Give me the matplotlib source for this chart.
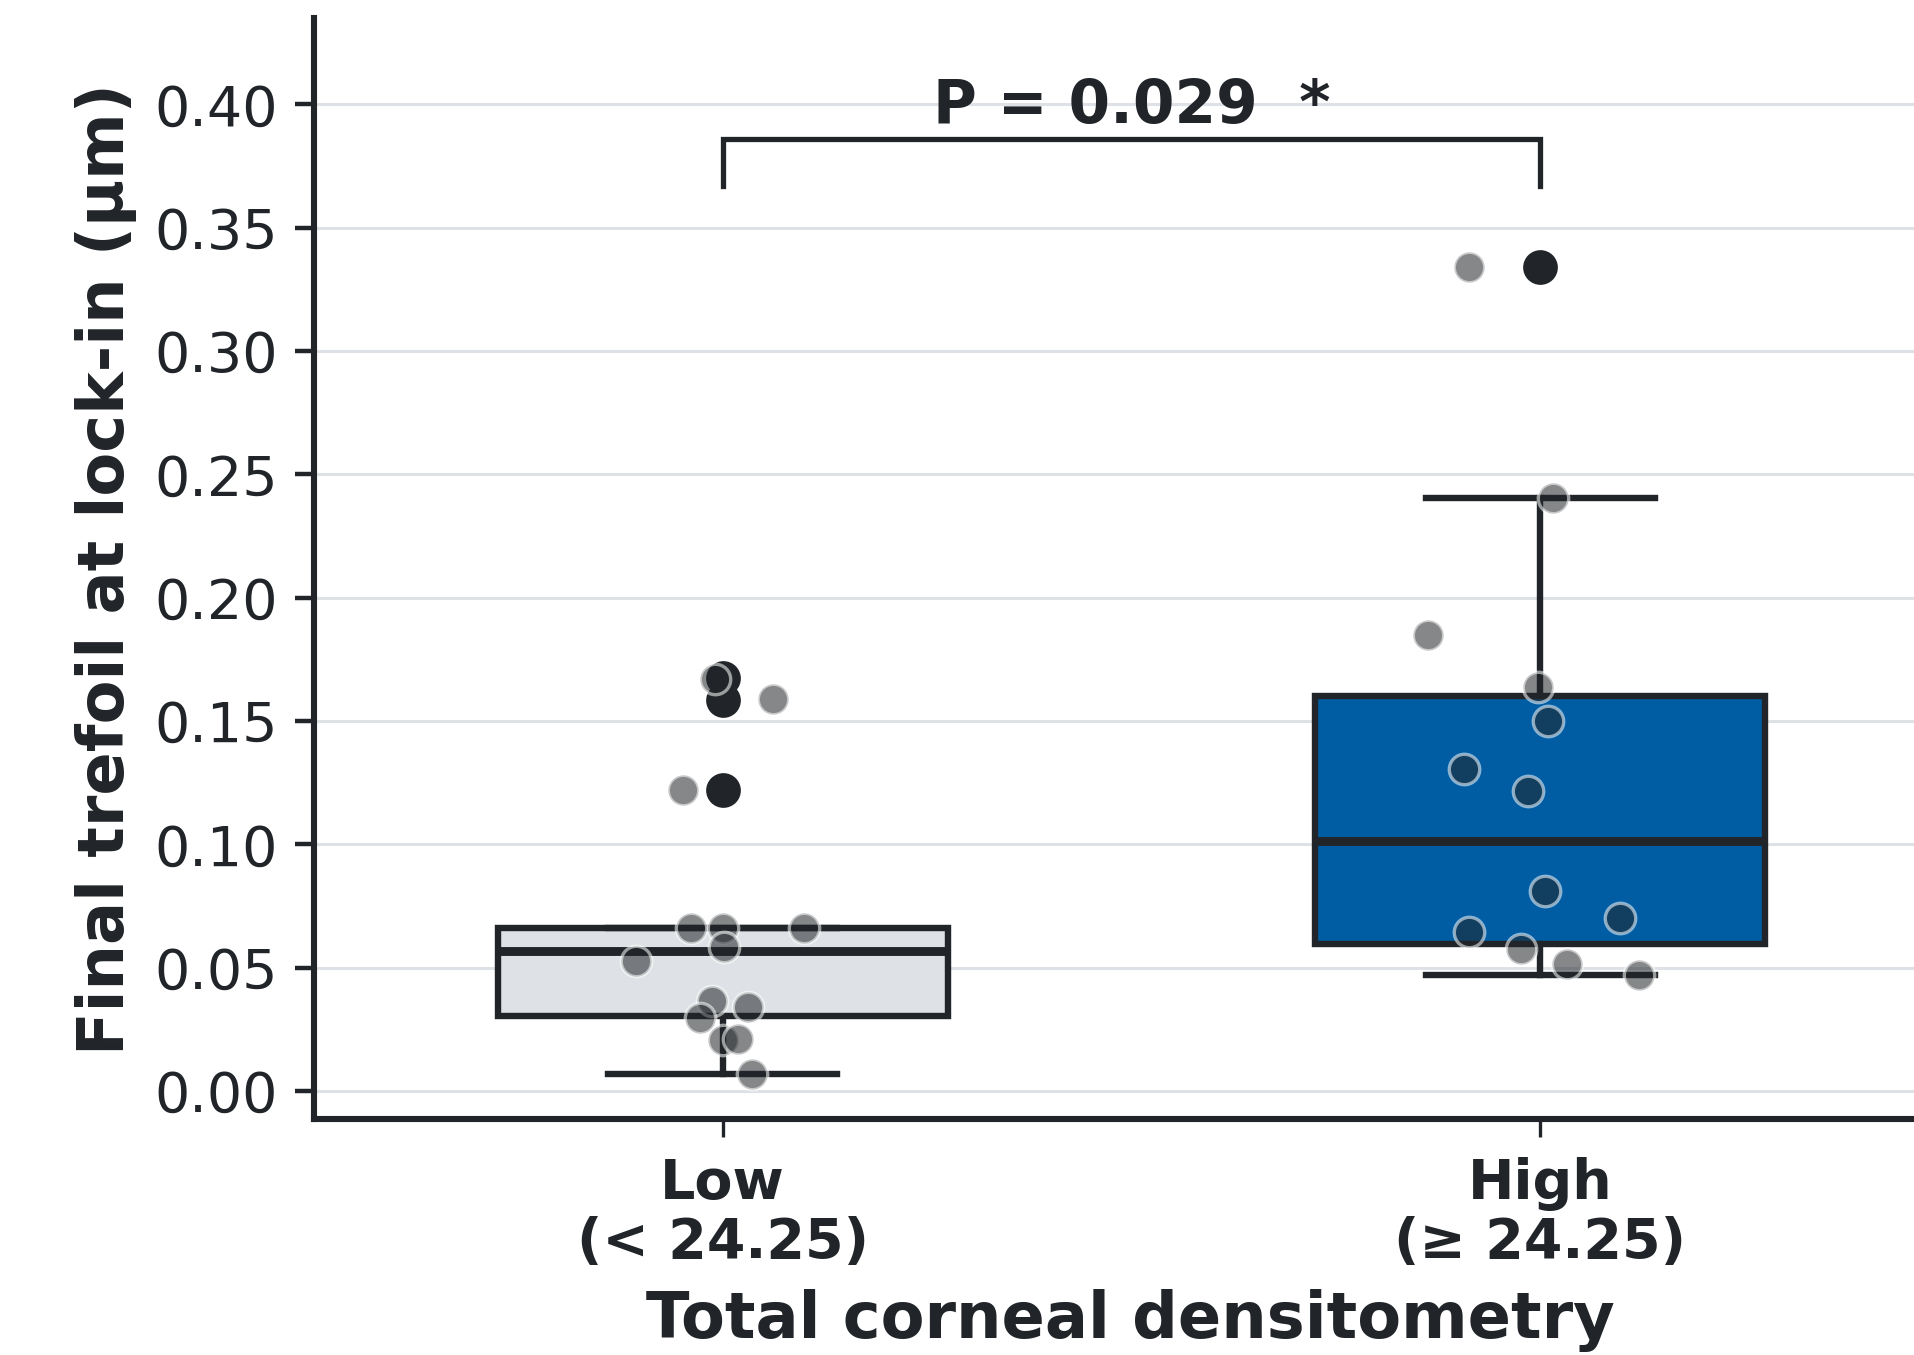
import matplotlib
matplotlib.use("Agg")
import matplotlib.pyplot as plt

# groups
categories = ["Low\n(< 24.25)", "High\n(\u2265 24.25)"]

# box statistics
q1 = [0.0305, 0.0598]
med = [0.0567, 0.1014]
q3 = [0.0663, 0.1603]
whislo = [0.0069, 0.0470]
whishi = [0.0663, 0.2403]
fliers_low = [0.1676, 0.1587, 0.1221]
fliers_high = [0.3340]

# individual eyes (strip), with their horizontal jitter
low_vals = [0.1671, 0.1590, 0.1221, 0.0663, 0.0663, 0.0663, 0.0583, 0.0529,
            0.0366, 0.0297, 0.0341, 0.0208, 0.0213, 0.0069]
low_jitter = [-0.009, 0.061, -0.048, -0.039, 0.000, 0.100, 0.002, -0.106,
              -0.013, -0.028, 0.031, 0.000, 0.019, 0.036]
high_vals = [0.3340, 0.2403, 0.1850, 0.1640, 0.1500, 0.1305, 0.1216, 0.0811,
             0.0702, 0.0643, 0.0578, 0.0514, 0.0470]
high_jitter = [-0.087, 0.015, -0.137, -0.003, 0.009, -0.093, -0.015, 0.006,
               0.097, -0.087, -0.024, 0.033, 0.121]

p_text = "P = 0.029  *"

ink = "#212529"
grid_col = "#dee2e6"
box_cols = ["#dee2e6", "#005da4"]

plt.rcParams["font.family"] = ["DejaVu Sans"]
fig = plt.figure(figsize=(9.57, 6.775), dpi=200)
ax = fig.add_axes([0.164, 0.174, 0.836, 0.8127])

stats = []
for i in range(2):
    stats.append({"q1": q1[i], "med": med[i], "q3": q3[i],
                  "whislo": whislo[i], "whishi": whishi[i],
                  "fliers": [fliers_low, fliers_high][i]})

bp = ax.bxp(stats, positions=[0, 1], widths=0.55, patch_artist=True,
            boxprops=dict(edgecolor=ink, linewidth=2.3),
            medianprops=dict(color=ink, linewidth=3.2),
            whiskerprops=dict(color=ink, linewidth=2.3),
            capprops=dict(color=ink, linewidth=2.3),
            flierprops=dict(marker="o", markerfacecolor=ink, markeredgecolor=ink,
                            markersize=11.5),
            capwidths=0.28)
for patch, c in zip(bp["boxes"], box_cols):
    patch.set_facecolor(c)
    patch.set_zorder(2)

for pos, vals, jit in [(0, low_vals, low_jitter), (1, high_vals, high_jitter)]:
    xs = [pos + j for j in jit]
    ax.scatter(xs, vals, s=120, color=ink, alpha=0.55, edgecolor="white",
               linewidth=1.2, zorder=4)

# significance bracket
ax.plot([0, 0, 1, 1], [0.367, 0.386, 0.386, 0.367], color=ink, linewidth=1.9,
        solid_joinstyle="miter", zorder=5)
ax.text(0.5, 0.3872, p_text, ha="center", va="bottom", fontsize=21.5,
        fontweight="bold", color=ink)

ax.set_xlim(-0.5, 1.457)
ax.set_ylim(-0.0114, 0.435)
ax.set_yticks([0.0, 0.05, 0.10, 0.15, 0.20, 0.25, 0.30, 0.35, 0.40])
ax.set_yticklabels(["%.2f" % v for v in ax.get_yticks()])
ax.set_xticks([0, 1])
ax.set_xticklabels(categories, fontweight="bold", fontsize=20, linespacing=1.12)

ax.yaxis.grid(True, color=grid_col, linewidth=1.1, zorder=0)
ax.set_axisbelow(True)
for s in ["top", "right"]:
    ax.spines[s].set_visible(False)
for s in ["left", "bottom"]:
    ax.spines[s].set_linewidth(2.2)
    ax.spines[s].set_color(ink)

ax.tick_params(axis="y", labelsize=20, length=7, width=1.6, colors=ink, pad=6)
ax.tick_params(axis="x", length=6.5, width=1.2, colors=ink, pad=7)

ax.set_xlabel("Total corneal densitometry", fontsize=23, fontweight="bold",
              color=ink, labelpad=6)
ax.xaxis.set_label_coords(0.5103, -0.1545)
ax.set_ylabel("Final trefoil at lock-in (\u00b5m)", fontsize=23,
              fontweight="bold", color=ink, labelpad=6)

fig.savefig("out.png", dpi=200)
